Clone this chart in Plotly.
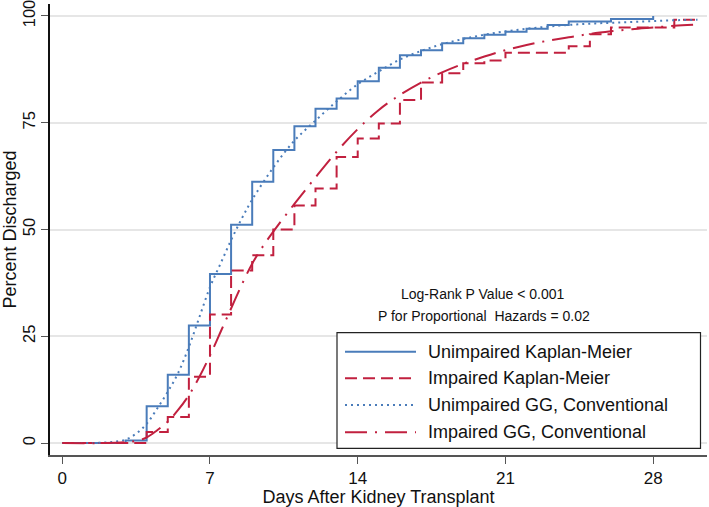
import plotly.graph_objects as go

# ---------------- data ----------------
km_unimp_days = [0, 3, 4, 5, 6, 7, 8, 9, 10, 11, 12, 13, 14, 15, 16, 17, 18, 19, 20, 21, 22, 23, 24, 26, 28]
km_unimp_pct = [0, 0.6, 8.6, 16.0, 27.5, 39.6, 51.1, 61.2, 68.6, 74.2, 78.3, 80.7, 84.7, 87.9, 90.8, 92.0,
                93.6, 94.8, 95.6, 96.3, 97.0, 97.9, 98.7, 99.3, 100]

km_imp_days = [0, 4, 5, 6, 7, 8, 9, 10, 11, 12, 13, 14, 15, 16, 17, 18, 19, 20, 21, 24, 25, 26, 29, 30.1]
km_imp_pct = [0, 2.6, 6.1, 15.5, 30.1, 40.4, 44.0, 50.0, 55.6, 59.6, 67.0, 71.3, 74.8, 80.3, 84.4, 86.6,
              88.9, 89.6, 91.4, 92.9, 95.7, 97.3, 99.1, 99.1]

gg_unimp_days = [0, 1, 2, 2.5, 3, 3.5, 4, 4.5, 5, 5.5, 6, 6.5, 7, 7.5, 8, 8.5, 9, 10, 11, 12, 13, 14, 15,
                 16, 17, 18, 19, 20, 21, 22, 23, 24, 25, 26, 27, 28, 29, 30.1]
gg_unimp_pct = [0, 0, 0.1, 0.3, 0.8, 2.2, 4.5, 8.1, 12.0, 16.5, 22.5, 29.5, 36.5, 42.0, 47.5, 52.5, 57.0,
                64.5, 70.8, 75.5, 80.0, 84.0, 87.0, 89.8, 91.8, 93.4, 94.6, 95.6, 96.4, 97.0, 97.5, 97.9,
                98.2, 98.4, 98.6, 98.8, 99.0, 99.1]

gg_imp_days = [0, 2, 3, 3.5, 4, 4.5, 5, 5.5, 6, 6.5, 7, 7.5, 8, 8.5, 9, 9.5, 10, 11, 12, 13, 14, 15, 16,
               17, 18, 19, 20, 21, 22, 23, 24, 25, 26, 27, 28, 29, 30.1]
gg_imp_pct = [0, 0, 0.2, 0.5, 1.3, 3.0, 5.0, 7.8, 11.2, 15.5, 20.5, 26.0, 31.5, 37.0, 42.0, 46.0, 49.5,
              56.0, 62.2, 68.2, 73.5, 78.0, 81.5, 84.4, 86.8, 88.8, 90.5, 92.0, 93.2, 94.2, 95.0, 95.8,
              96.4, 96.9, 97.3, 97.7, 98.0]

series_names = ["Unimpaired Kaplan-Meier", "Impaired Kaplan-Meier",
                "Unimpaired GG, Conventional", "Impaired GG, Conventional"]
x_ticks = [0, 7, 14, 21, 28]
y_ticks = [0, 25, 50, 75, 100]
stat_lines = ["Log-Rank P Value < 0.001", "P for Proportional&nbsp; Hazards = 0.02"]

# ---------------- style ----------------
BLUE = "#4a7cba"
RED = "#c1203f"
FONT = "Liberation Sans, Arial, Helvetica, sans-serif"
styles = [
    dict(color=BLUE, width=2, dash="solid"),
    dict(color=RED, width=2, dash="12px,6px"),
    dict(color=BLUE, width=2, dash="2px,4px"),
    dict(color=RED, width=2, dash="22px,8px,2px,8px"),
]

W, H = 709, 507
L, R, T, B = 50, 2, 4, 52
PW, PH = W - L - R, H - T - B


def px(x):
    return (x - L) / PW


def py(y):
    return (H - B - y) / PH


fig = go.Figure()
fig.add_trace(go.Scatter(x=km_unimp_days, y=km_unimp_pct, mode="lines", line_shape="hv",
                         line=styles[0], name=series_names[0], showlegend=False))
fig.add_trace(go.Scatter(x=km_imp_days, y=km_imp_pct, mode="lines", line_shape="hv",
                         line=styles[1], name=series_names[1], showlegend=False))
fig.add_trace(go.Scatter(x=gg_unimp_days, y=gg_unimp_pct, mode="lines", line_shape="spline",
                         line=styles[2], name=series_names[2], showlegend=False))
fig.add_trace(go.Scatter(x=gg_imp_days, y=gg_imp_pct, mode="lines", line_shape="spline",
                         line=styles[3], name=series_names[3], showlegend=False))

# custom legend box (Stata style)
shapes = [dict(type="rect", xref="paper", yref="paper",
               x0=px(337), x1=px(700.5), y0=py(448.3), y1=py(332.7),
               line=dict(color="#222", width=1.2), fillcolor="white", layer="above")]
annotations = []
rows_y = [351.7, 378.3, 405.0, 432.3]
for i, (name, st) in enumerate(zip(series_names, styles)):
    shapes.append(dict(type="line", xref="paper", yref="paper",
                       x0=px(345), x1=px(416), y0=py(rows_y[i]), y1=py(rows_y[i]),
                       line=dict(color=st["color"], width=st["width"], dash=st["dash"]),
                       layer="above"))
    annotations.append(dict(xref="paper", yref="paper", x=px(426), y=py(rows_y[i]),
                            xanchor="left", yanchor="middle", text=name, showarrow=False,
                            font=dict(size=18, color="#111", family=FONT)))

annotations.append(dict(xref="paper", yref="paper", x=px(483), y=py(294), xanchor="center",
                        yanchor="middle", text=stat_lines[0], showarrow=False,
                        font=dict(size=14, color="#111", family=FONT)))
annotations.append(dict(xref="paper", yref="paper", x=px(484), y=py(316), xanchor="center",
                        yanchor="middle", text=stat_lines[1], showarrow=False,
                        font=dict(size=14, color="#111", family=FONT)))

fig.update_layout(
    width=W, height=H,
    margin=dict(l=L, r=R, t=T, b=B),
    paper_bgcolor="white", plot_bgcolor="white",
    font=dict(family=FONT, size=17, color="#111"),
    shapes=shapes, annotations=annotations,
    showlegend=False,
)
fig.update_xaxes(
    range=[-0.58, 30.55], tickmode="array", tickvals=x_ticks, ticktext=[str(v) for v in x_ticks],
    showgrid=False, zeroline=False, showline=True, linecolor="#555", linewidth=1.5,
    ticks="outside", ticklen=7, tickwidth=1.2, tickcolor="#555",
    tickfont=dict(size=17), title=dict(text="Days After Kidney Transplant", font=dict(size=18), standoff=1),
    automargin=False,
)
fig.update_yaxes(
    range=[-2.8, 102.8], tickmode="array", tickvals=y_ticks, ticktext=[str(v) for v in y_ticks],
    tickangle=-90, ticklabeloverflow="allow",
    showgrid=True, gridcolor="#e6e6e6", gridwidth=1.5, zeroline=False,
    showline=True, linecolor="#111", linewidth=1.5,
    ticks="outside", ticklen=7, tickwidth=1.2, tickcolor="#555",
    tickfont=dict(size=16.5), title=dict(text="Percent Discharged", font=dict(size=18), standoff=4),
    automargin=False,
)

fig.write_html("out.html", config={"displayModeBar": False},
               post_script="document.body.style.margin='0px';")
